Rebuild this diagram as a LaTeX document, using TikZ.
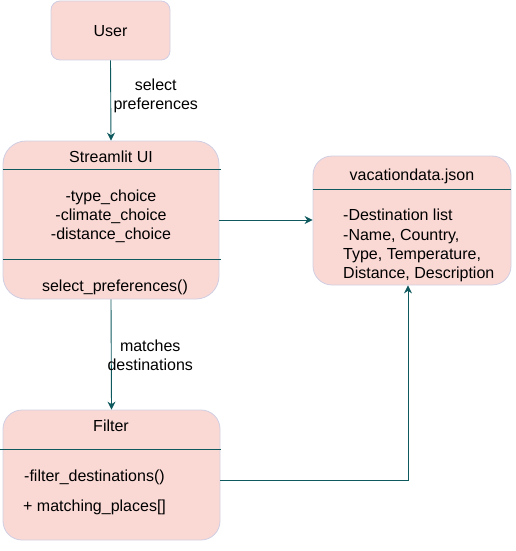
\documentclass[tikz,border=0pt]{standalone}
\usepackage{fontspec}
\setmainfont{Liberation Sans}
\usetikzlibrary{arrows.meta,positioning}
\definecolor{boxfill}{HTML}{FAD9D5}
\definecolor{boxline}{HTML}{D0CEE2}
\definecolor{flowline}{HTML}{0E595E}
\tikzset{
	umlbox/.style={draw=boxline, fill=boxfill, line width=0.8pt, inner sep=0pt},
	sepline/.style={draw=flowline, line width=0.8pt},
	flow/.style={draw=flowline, line width=0.9pt, -{Stealth[length=8pt,width=8pt]}},
	txt/.style={inner sep=0pt, text height=13pt, text depth=1pt}
}

\begin{document}
\begin{tikzpicture}[x=1pt, y=-1pt, font=\fontsize{16}{19}\selectfont]
			%%%%% START %%%%%
			\useasboundingbox (0, 0) rectangle (515, 551);
			
			\node[umlbox, rounded corners=9pt, minimum width=119pt, minimum height=59pt] (user) at (110.5, 30.5) {};
			\node[umlbox, rounded corners=23pt, minimum width=216pt, minimum height=158pt] (ui) at (111, 220) {};
			\node[umlbox, rounded corners=19pt, minimum width=198pt, minimum height=129pt] (data) at (412, 220.5) {};
			\node[umlbox, rounded corners=19pt, minimum width=217pt, minimum height=130pt] (filter) at (111.5, 475) {};
			
			\draw[sepline] ([yshift=-29pt]ui.north west) -- ([xshift=2pt, yshift=-29pt]ui.north east);
			\draw[sepline] ([yshift=-119pt]ui.north west) -- ([xshift=2pt, yshift=-119pt]ui.north east);
			\draw[sepline] ([yshift=-34pt]data.north west) -- ([yshift=-34pt]data.north east);
			\draw[sepline] ([xshift=-3pt, yshift=-40pt]filter.north west) -- ([xshift=1pt, yshift=-40pt]filter.north east);
			
			\node[txt] (usertitle) at (user) {User};
			\node[txt] (uititle) at (111, 156) {Streamlit UI};
			\node[inner sep=0pt, align=center] (uiattr) at (111, 216.5) {-type\_choice\\-climate\_choice\\-distance\_choice};
			\node[txt] (uimethod) at (115, 285) {select\_preferences()};
			
			\node[txt] (datatitle) at (412, 174) {vacationdata.json};
			\node[txt, anchor=west] (datalist) at (343, 214) {-Destination list};
			\node[inner sep=0pt, align=left, anchor=north west] (datafields) at (343, 229.5) {-Name, Country,\\Type, Temperature,\\Distance, Description};
			
			\node[txt] (filtertitle) at (111, 425) {Filter};
			\node[txt, anchor=west] (filtermethod) at (24, 475) {-filter\_destinations()};
			\node[txt, anchor=west] (filterlist) at (23, 505) {+ matching\_places[]};
			
			\draw[flow] (user.south) -- (ui.north)
				node[midway, xshift=45pt, yshift=4.5pt, inner sep=0pt, align=center] (selectlbl) {select\\preferences};
			\draw[flow] (ui.south) -- (filter.north)
				node[midway, xshift=39pt, yshift=-1pt, inner sep=0pt, align=center] (matchlbl) {matches\\destinations};
			\draw[flow] (ui.east) -- (ui.east -| data.west);
			\draw[flow] ([yshift=-5pt]filter.east) -| ([xshift=-4pt]data.south);
			
			%%%%% END %%%%%
		\end{tikzpicture}
\end{document}
